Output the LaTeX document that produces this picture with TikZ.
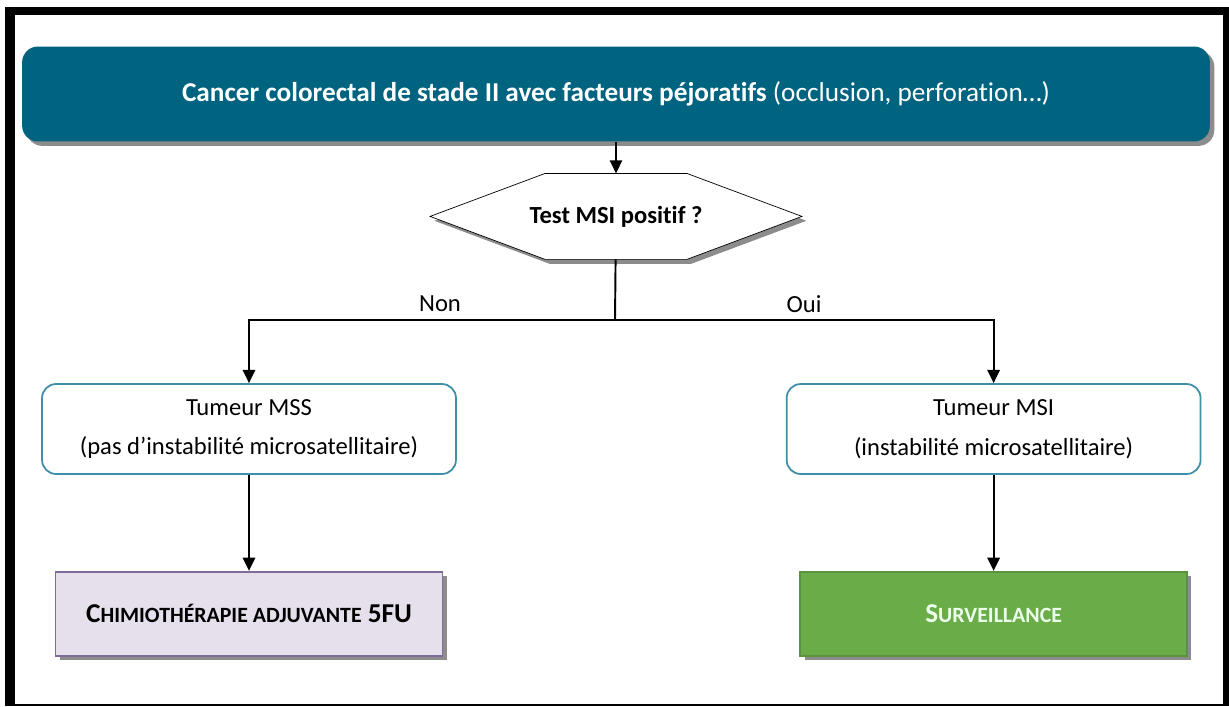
\documentclass[tikz,border=0pt]{standalone}
\usepackage{fontspec}
\setmainfont{Carlito}[Ligatures=NoCommon]
\usepackage{xcolor}
\usetikzlibrary{positioning,arrows.meta,shadows,backgrounds}

\definecolor{headblue}{HTML}{00637F}
\definecolor{tumline}{HTML}{3F8FA8}
\definecolor{chimfill}{HTML}{E5E0EC}
\definecolor{chimline}{HTML}{7E6C99}
\definecolor{survfill}{HTML}{6AAC48}
% petites capitales simulees
\newcommand\petitcap[1]{{\fontsize{12.4}{15}\selectfont\MakeUppercase{#1}}}

\begin{document}
\begin{tikzpicture}[
  x=0.02cm, y=-0.02cm, line width=1.1pt,
  >={Triangle[length=7.5pt,width=7pt]},
  shade/.style={drop shadow={shadow xshift=2.5pt,shadow yshift=-2.5pt,fill=black!50,opacity=0.9}},
  head/.style={fill=headblue,text=white,rounded corners=9pt,minimum width=23.76cm,minimum height=1.9cm,font=\fontsize{15.5}{18}\selectfont,shade},
  hexa/.style={minimum width=7.4cm,minimum height=1.68cm,inner sep=0pt,font=\bfseries\fontsize{14}{17}\selectfont},
  tumeur/.style={draw=tumline,line width=1pt,fill=white,rounded corners=8pt,align=center,minimum width=8.28cm,minimum height=1.8cm,font=\fontsize{14}{22.5}\selectfont},
  result/.style={line width=1pt,minimum width=7.74cm,minimum height=1.68cm,font=\bfseries\fontsize{15.5}{18}\selectfont,shade},
  branch/.style={font=\fontsize{14}{17}\selectfont}
]
\useasboundingbox (0,0) rectangle (1229,706);

\node[head] (cancer) at (616,94) {\textbf{Cancer colorectal de stade II avec facteurs péjoratifs} (occlusion, perforation\dots)};
\node[hexa,below=0.62cm of cancer] (question) {Test MSI positif ?};
\node[tumeur] (mss) at (249,429) {Tumeur MSS\\(pas d’instabilité microsatellitaire)};
\node[tumeur,right=6.58cm of mss] (msi) {Tumeur MSI\\(instabilité microsatellitaire)};
\node[result,draw=chimline,fill=chimfill,below=1.92cm of mss] (chimio) {C\petitcap{himiothérapie adjuvante} 5FU};
\node[result,draw=survfill!85!black,fill=survfill,text=white!92!green,below=1.92cm of msi] (surv) {S\petitcap{urveillance}};

\begin{scope}[on background layer]
% cadre
\fill[black] (5,7) rectangle (1229,706);
\fill[white] (15,15) rectangle (1223,704);
% hexagone
\filldraw[fill=white,shade] (question.west) -- ([xshift=2.3cm]question.north west)
  -- ([xshift=-2.3cm]question.north east) -- (question.east)
  -- ([xshift=-2.3cm]question.south east) -- ([xshift=2.3cm]question.south west) -- cycle;
\end{scope}

\coordinate (split) at (615,320);
\draw[->] (cancer) -- (question);
\draw (question) -- (split);
\draw[->] (split) -| (mss);
\draw[->] (split) -| (msi);
\node[branch] (non) at (440,304) {Non};
\node[branch] (oui) at (804,304) {Oui};
\draw[->] (mss) -- (chimio);
\draw[->] (msi) -- (surv);
\end{tikzpicture}
\end{document}
